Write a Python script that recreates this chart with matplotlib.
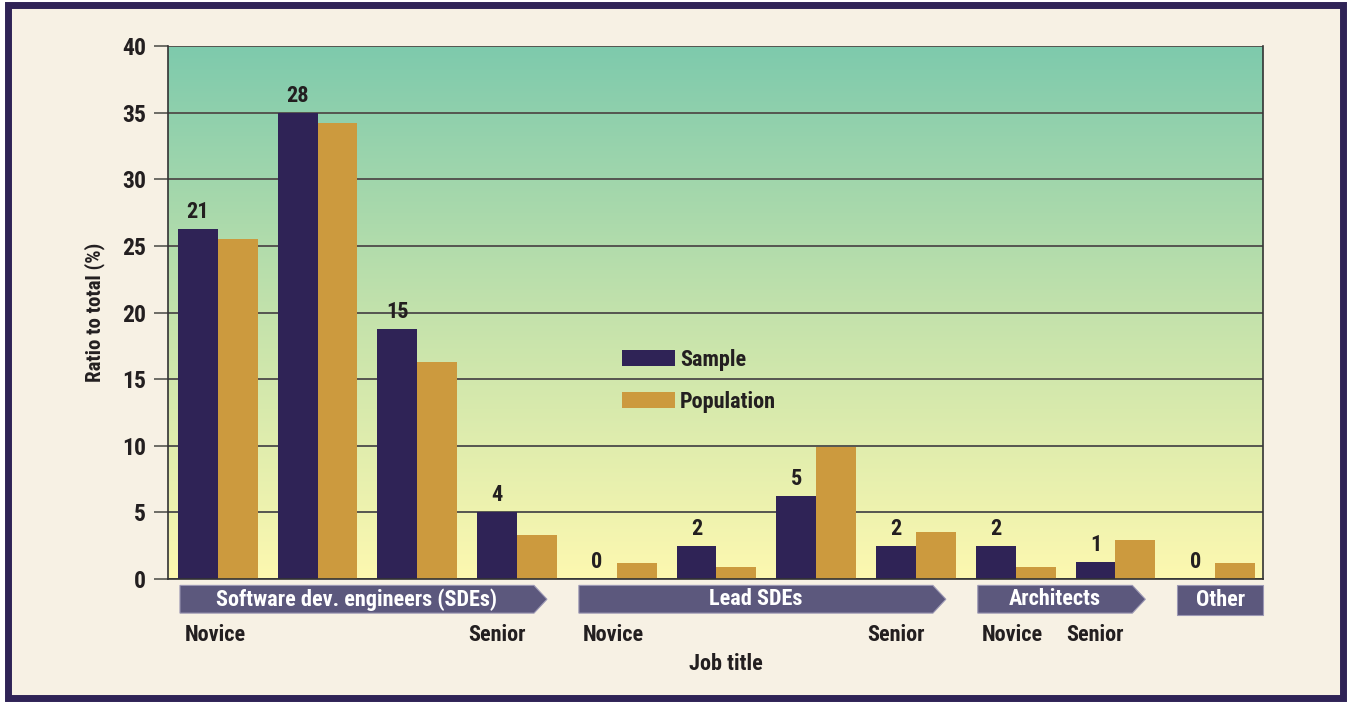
import numpy as np
import matplotlib
matplotlib.use("Agg")
import matplotlib.pyplot as plt
from matplotlib import font_manager
from matplotlib.patches import Polygon, Rectangle, Patch
from matplotlib.colors import LinearSegmentedColormap
import matplotlib.transforms as mtransforms

# data
counts = [21, 28, 15, 4, 0, 2, 5, 2, 2, 1, 0]
sample = [26.25, 35.0, 18.75, 5.0, 0.0, 2.5, 6.25, 2.5, 2.5, 1.25, 0.0]
population = [25.5, 34.2, 16.3, 3.3, 1.2, 0.9, 9.9, 3.5, 0.9, 2.9, 1.2]
banners = ["Software dev. engineers (SDEs)", "Lead SDEs", "Architects", "Other"]
banner_first = [0, 4, 8, 10]
banner_last = [3, 7, 9, 10]
novice_at = [0, 4, 8]
senior_at = [3, 7, 9]

names = {f.name for f in font_manager.fontManager.ttflist}
fam = "DejaVu Sans"
for c in ["Liberation Sans Narrow", "Roboto Condensed", "DejaVu Sans Condensed", "Liberation Sans"]:
    if c in names:
        fam = c
        break
plt.rcParams["font.family"] = [fam, "DejaVu Sans"]
plt.rcParams["font.weight"] = "bold"

dark = "#2f2356"
gold = "#cc9a3e"
banner_col = "#5c587d"
txt = "#231f20"

fig = plt.figure(figsize=(13.51, 7.04), dpi=100)
fig.patch.set_facecolor("white")
fig.patches.append(Rectangle((0.006, 0.008), 0.988, 0.985, transform=fig.transFigure,
                             facecolor="#f7f1e4", edgecolor=dark, linewidth=5, zorder=-10))

ax = fig.add_axes([168 / 1351, 1 - 579 / 704, (1263 - 168) / 1351, 533 / 704])
ax.set_facecolor("none")
ax.set_xlim(-0.5, 10.48)
ax.set_ylim(0, 40)

grad = LinearSegmentedColormap.from_list("g", ["#fdf8b0", "#c3e2ab", "#7ecaad"])
ax.imshow(np.linspace(0, 1, 256).reshape(-1, 1), cmap=grad, origin="lower",
          extent=[-0.5, 10.48, 0, 40], aspect="auto", zorder=0)

x = np.arange(len(sample))
w = 0.4
ax.bar(x - w / 2, sample, w, color=dark, zorder=3, label="Sample")
ax.bar(x + w / 2, population, w, color=gold, zorder=3, label="Population")
for xi, s, c in zip(x, sample, counts):
    ax.text(xi - w / 2, s + 0.45, str(c), ha="center", va="bottom", fontsize=16,
            color=txt, fontweight="bold", zorder=4)

ax.set_yticks(range(0, 41, 5))
ax.set_xticks([])
ax.yaxis.grid(True, color="#555550", linewidth=1.4, zorder=1)
ax.tick_params(axis="y", length=10, width=1.2, color="#555550", pad=6,
               labelsize=17, labelcolor=txt)
for lab in ax.get_yticklabels():
    lab.set_fontweight("bold")
for s in ["left", "right", "bottom"]:
    ax.spines[s].set_color("#333333")
    ax.spines[s].set_linewidth(1.2)
    ax.spines[s].set_zorder(5)
ax.spines["top"].set_visible(False)
ax.set_ylabel("Ratio to total (%)", fontsize=15, color=txt, fontweight="bold", labelpad=12)

# category banners below the axis
trans = mtransforms.blended_transform_factory(ax.transData, ax.transAxes)
y0, y1 = -0.012, -0.064
for lab, a, b in zip(banners, banner_first, banner_last):
    left = a - 0.38
    if a == b:
        right = b + 0.48
        pts = [(left, y0), (right, y0), (right, y1 - 0.004), (left, y1 - 0.004)]
        ym = (y0 + y1 - 0.004) / 2
    else:
        right = b + 0.17
        tip = b + 0.30
        pts = [(left, y0), (right, y0), (tip, (y0 + y1) / 2), (right, y1), (left, y1)]
        ym = (y0 + y1) / 2
    ax.add_patch(Polygon(pts, closed=True, transform=trans, clip_on=False,
                         facecolor=banner_col, edgecolor="#9c98b4", linewidth=0.8))
    ax.text((left + right) / 2, ym, lab, transform=trans, ha="center", va="center",
            color="white", fontsize=16, fontweight="bold")

for g in novice_at:
    ax.text(g - 0.03, -0.106, "Novice", transform=trans, ha="center", va="center",
            fontsize=16, color=txt, fontweight="bold")
for g in senior_at:
    ax.text(g - 0.2, -0.106, "Senior", transform=trans, ha="center", va="center",
            fontsize=16, color=txt, fontweight="bold")
ax.text(5.09, -0.16, "Job title", transform=trans, ha="center", va="center",
        fontsize=16, color=txt, fontweight="bold")

handles = [Patch(facecolor=dark), Patch(facecolor=gold)]
leg = ax.legend(handles, ["Sample", "Population"], loc="upper left",
                bbox_to_anchor=(0.4146, 0.432), frameon=False, fontsize=16,
                handlelength=2.4, handleheight=0.75, handletextpad=0.2,
                labelspacing=0.9, borderpad=0, borderaxespad=0)
for t in leg.get_texts():
    t.set_color(txt)
    t.set_fontweight("bold")
leg.set_zorder(6)

fig.savefig("out.png", dpi=100, facecolor=fig.get_facecolor())
